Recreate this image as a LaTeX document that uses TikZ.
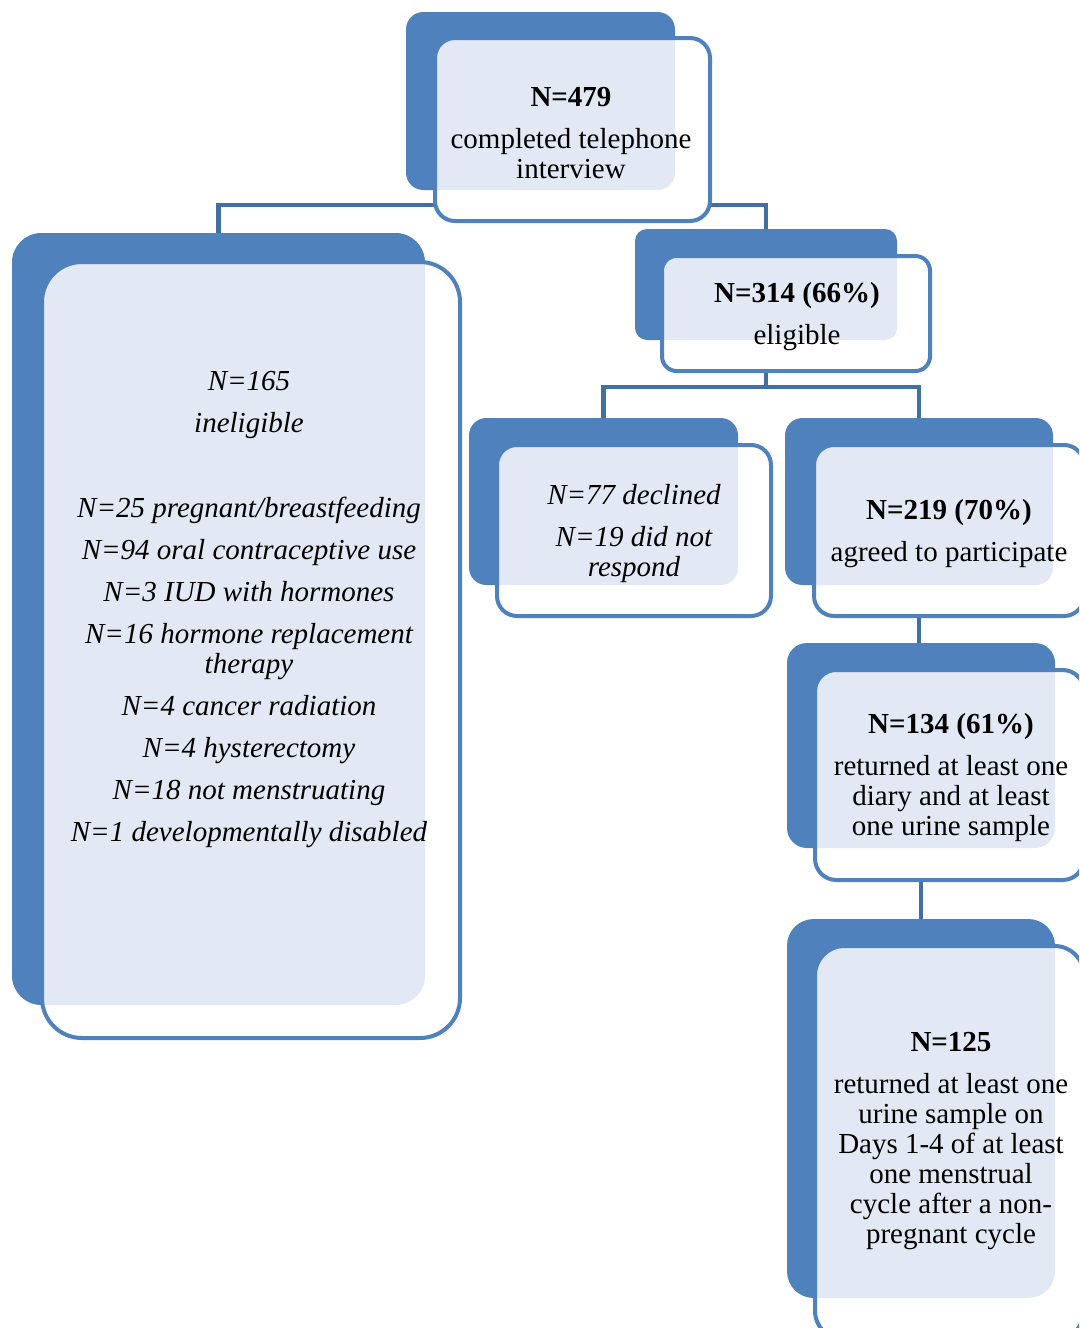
\documentclass[tikz,border=0pt]{standalone}
\usepackage{fontspec}
\setmainfont{Liberation Serif}
\usetikzlibrary{fit,backgrounds}
\definecolor{bblue}{RGB}{79,129,189}
\definecolor{lblue}{RGB}{65,112,163}
\definecolor{texfill}{RGB}{226,233,244}
\tikzset{
 backbox/.style={fill=bblue, inner sep=0pt, draw=none},
 frontbox/.style={draw=bblue, line width=3pt, inner sep=0pt},
 conn/.style={draw=lblue, line width=3.5pt},
 txt/.style={align=center, font=\fontsize{21.75pt}{22.5pt}\selectfont, inner sep=0pt},
}
\newcommand\boxpair[7]{%
 \node[backbox, rounded corners=#6, fit={#2 #3}] (b#1) {};
 \fill[white, rounded corners=#7] #4 rectangle #5;
 \begin{scope}
  \clip[rounded corners=#6] #2 rectangle #3;
  \fill[texfill, rounded corners=#7] #4 rectangle #5;
 \end{scope}
 \node[frontbox, rounded corners=#7, fit={#4 #5}] (f#1) {};
}
\begin{document}
\begin{tikzpicture}[x=0.75pt,y=-0.75pt]
\useasboundingbox (0,0) rectangle (1079,1328);
\begin{scope}
\clip (0,0) rectangle (1079,1328);
\boxpair{1}{(406,12)}{(675,190)}{(435,38)}{(710,221)}{13pt}{15pt}
\boxpair{2}{(12,233)}{(425,1005)}{(42,262)}{(460,1038)}{22pt}{30pt}
\boxpair{3}{(635,229)}{(897,340)}{(662,256)}{(930,371)}{9pt}{11pt}
\boxpair{4}{(469,418)}{(738,585)}{(497,445)}{(771,616)}{13pt}{15pt}
\boxpair{5}{(785,418)}{(1053,585)}{(814,445)}{(1084,616)}{13pt}{15pt}
\boxpair{6}{(787,643)}{(1055,848)}{(815,670)}{(1084,880)}{15pt}{16pt}
\boxpair{7}{(787,919)}{(1055,1298)}{(815,946)}{(1084,1340)}{20pt}{22pt}
\end{scope}

\node[txt] (t1) at (571,133) {\textbf{N=479}\\[9pt]completed telephone\\interview};
\node[txt, font=\fontsize{21.75pt}{22.5pt}\selectfont\itshape] (t2) at (249,610) {N=165\\[9pt]ineligible\\[41.25pt]N=25 pregnant/breastfeeding\\[9pt]N=94 oral contraceptive use\\[9pt]N=3 IUD with hormones\\[9pt]N=16 hormone replacement\\therapy\\[9pt]N=4 cancer radiation\\[9pt]N=4 hysterectomy\\[9pt]N=18 not menstruating\\[9pt]N=1 developmentally disabled};
\node[txt] (t3) at (797,317) {\textbf{N=314 (66\%)}\\[9pt]eligible};
\node[txt, font=\fontsize{21.75pt}{22.5pt}\selectfont\itshape] (t4) at (634,534) {N=77 declined\\[9pt]N=19 did not\\respond};
\node[txt] (t5) at (949,534) {\textbf{N=219 (70\%)}\\[9pt]agreed to participate};
\node[txt] (t6) at (951,778) {\textbf{N=134 (61\%)}\\[9pt]returned at least one\\diary and at least\\one urine sample};
\node[txt] (t7) at (951,1141) {\textbf{N=125}\\[9pt]returned at least one\\urine sample on\\Days 1-4 of at least\\one menstrual\\cycle after a non-\\pregnant cycle};

\coordinate (j1) at (540,205);
\coordinate (j2) at (766,387);
\begin{scope}[on background layer]
\draw[conn] (b1.center) -- (j1);
\draw[conn] (b2.north) |- (j1) -| (b3.north);
\draw[conn] (b3.center) -- (j2);
\draw[conn] (b4.north) |- (j2) -| (b5.north);
\draw[conn] (b5.center) -- (b5.center |- b6.north);
\draw[conn] (b6.center) -- (b6.center |- b7.north);
\end{scope}
\end{tikzpicture}
\end{document}
